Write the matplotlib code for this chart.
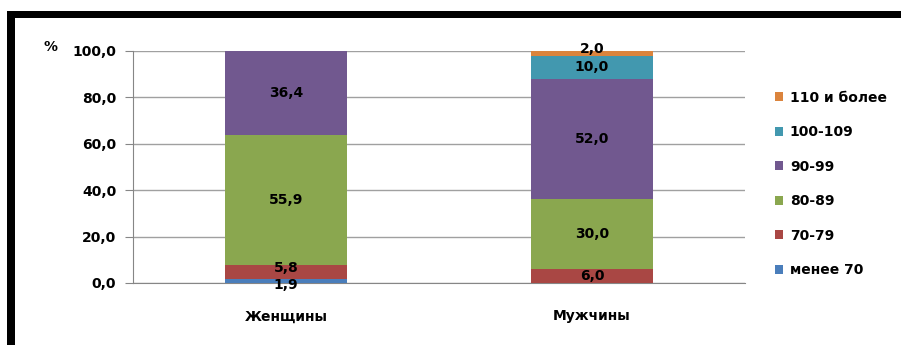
import matplotlib
matplotlib.use("Agg")
import matplotlib.pyplot as plt
from matplotlib.patches import Rectangle, Patch
import numpy as np

categories = ["Женщины", "Мужчины"]
series_names = ["менее 70", "70-79", "80-89", "90-99", "100-109", "110 и более"]
values_women = [1.9, 5.8, 55.9, 36.4, 0.0, 0.0]
values_men = [0.0, 6.0, 30.0, 52.0, 10.0, 2.0]
yticks = [0, 20, 40, 60, 80, 100]
colors = ["#4a7ebb", "#a94744", "#8aa74f", "#71588f", "#4298af", "#db843d"]

plt.rcParams['font.family'] = ['DejaVu Sans']

fig = plt.figure(figsize=(9.01, 3.45), dpi=100)
ax = fig.add_axes([133/901, 62/345, 612/901, 232/345])

x = np.arange(len(categories))
bottom = np.zeros(len(categories))
for i, name in enumerate(series_names):
    vals = np.array([values_women[i], values_men[i]])
    ax.bar(x, vals, 0.4, bottom=bottom, color=colors[i], zorder=3, label=name)
    for j in range(len(categories)):
        v = vals[j]
        if v <= 0:
            continue
        # small offsets so thin neighbouring segments keep readable labels
        dy = 0
        if v < 3:
            dy = -3 if bottom[j] == 0 else 3
        elif v < 8 and bottom[j] > 0:
            dy = 3
        ax.annotate(("%.1f" % v).replace(".", ","), (x[j], bottom[j] + v / 2),
                    xytext=(0, dy), textcoords='offset points',
                    ha='center', va='center', fontsize=10, fontweight='bold',
                    color='black', zorder=5)
    bottom += vals

ax.set_xlim(-0.5, 1.5)
ax.set_ylim(0, 100)
ax.set_yticks(yticks)
ax.set_yticklabels([("%.1f" % t).replace(".", ",") for t in yticks], fontsize=10, fontweight='bold')
ax.set_xticks(x)
ax.set_xticklabels(categories, fontsize=10, fontweight='bold')
ax.tick_params(axis='x', length=0, pad=19)
ax.tick_params(axis='y', length=6, color='#868686', pad=6)
ax.grid(axis='y', color='#a0a0a0', linewidth=1, zorder=0)
for s in ['top', 'right']:
    ax.spines[s].set_visible(False)
ax.spines['left'].set_color('#868686')
ax.spines['bottom'].set_color('#868686')

fig.text(50/901, 1 - 47/345, "%", fontsize=10, fontweight='bold', ha='center', va='center')

handles = [Patch(facecolor=colors[i], edgecolor='none') for i in range(len(series_names))][::-1]
fig.legend(handles, series_names[::-1], loc='upper left', bbox_to_anchor=(762/901, 1 - 78/345),
           frameon=False, prop={'weight': 'bold', 'size': 10},
           handlelength=0.6, handleheight=0.6, handletextpad=0.5, labelspacing=1.48)

# thick black frame on top and left
fig.patches.append(Rectangle((7/901, 1 - 18/345), 1, 7/345, transform=fig.transFigure,
                             facecolor='black', edgecolor='none', zorder=10))
fig.patches.append(Rectangle((7/901, 0), 8/901, 1 - 11/345, transform=fig.transFigure,
                             facecolor='black', edgecolor='none', zorder=12))

fig.savefig("out.png", dpi=100)
